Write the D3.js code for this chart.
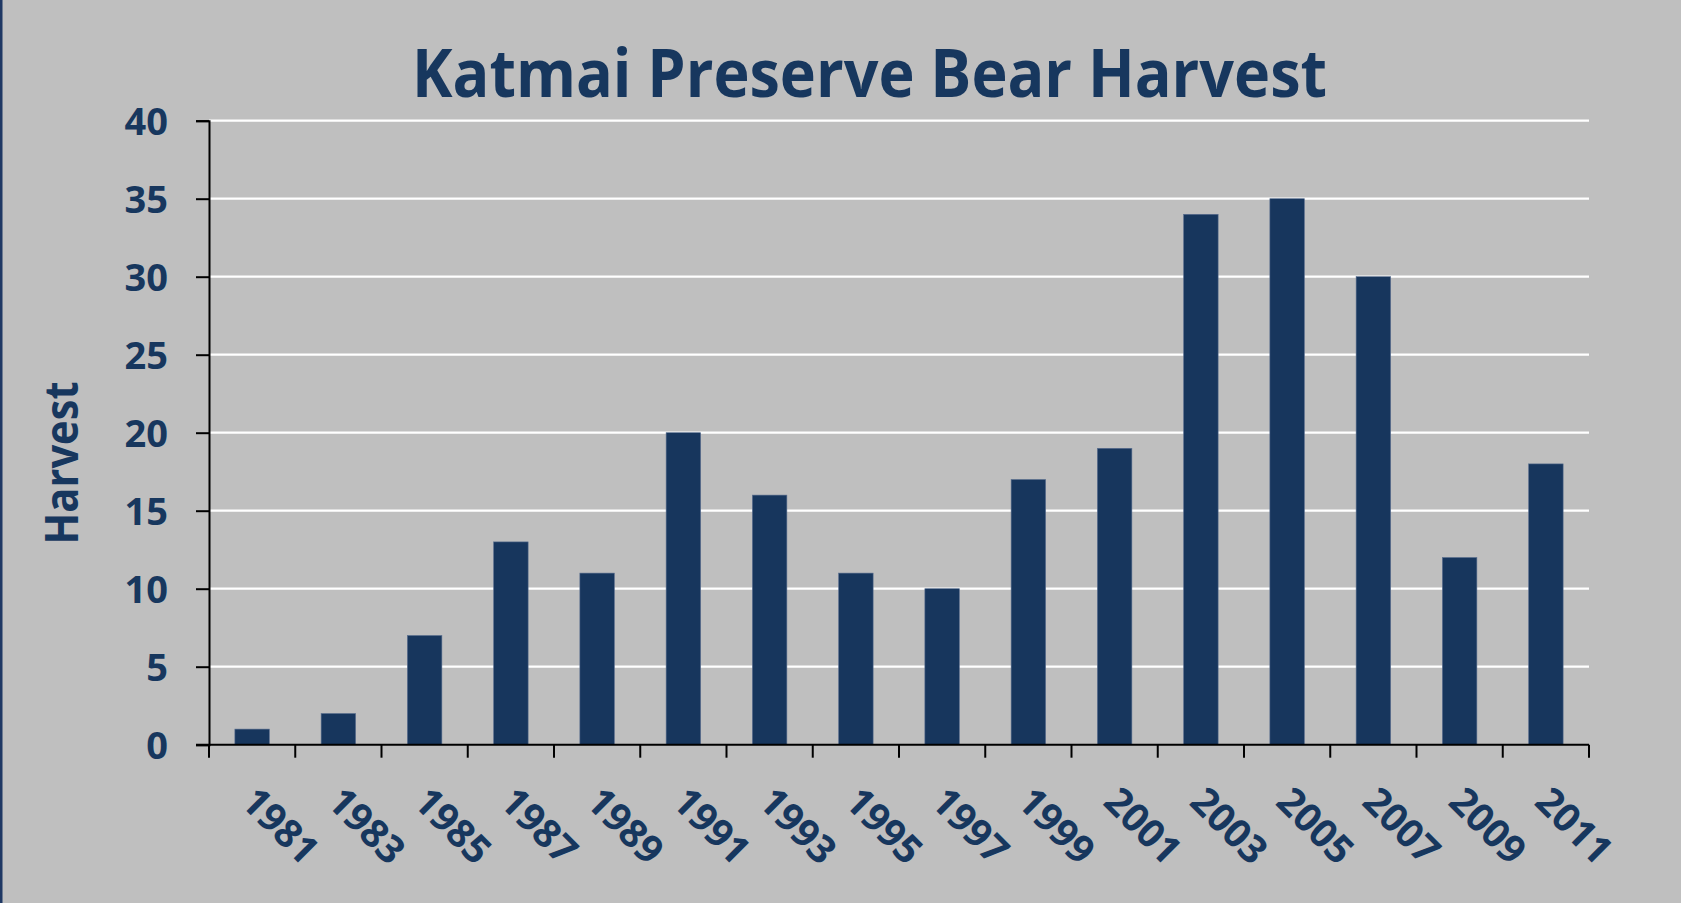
<!DOCTYPE html>
<html>
<head>
<meta charset="utf-8">
<script src="https://cdn.jsdelivr.net/npm/d3@7"></script>
<style>
  html, body { margin: 0; padding: 0; background: #bfbfbf; }
  svg { display: block; }
  text { font-family: "Open Sans", sans-serif; font-weight: bold; fill: #17375e; }
</style>
</head>
<body>
<div id="chart"></div>
<script>
// chart values
var years = ["1981", "1983", "1985", "1987", "1989", "1991", "1993", "1995",
             "1997", "1999", "2001", "2003", "2005", "2007", "2009", "2011"];
var harvest = [1, 2, 7, 13, 11, 20, 16, 11, 10, 17, 19, 34, 35, 30, 12, 18];
var yTicks = [0, 5, 10, 15, 20, 25, 30, 35, 40];

var svgWidth = 1681;
var svgHeight = 903;

var margin = { top: 120.7, right: 92, bottom: 158.3, left: 209 };
var chartWidth = svgWidth - margin.left - margin.right;
var chartHeight = svgHeight - margin.top - margin.bottom;

var svg = d3.select("#chart").append("svg")
    .attr("width", svgWidth)
    .attr("height", svgHeight);

// background and the thin blue border on the left
svg.append("rect").attr("width", svgWidth).attr("height", svgHeight).attr("fill", "#bfbfbf");
svg.append("rect").attr("x", 0).attr("y", 0).attr("width", 2.5).attr("height", svgHeight).attr("fill", "#1f3864");

var chartGroup = svg.append("g")
    .attr("transform", `translate(${margin.left}, ${margin.top})`);

var xScale = d3.scaleBand()
    .domain(years)
    .range([0, chartWidth])
    .paddingInner(0.6)
    .paddingOuter(0.3);

var yScale = d3.scaleLinear()
    .domain([0, 40])
    .range([chartHeight, 0]);

// gridlines
chartGroup.selectAll(".grid")
    .data(yTicks.filter(d => d > 0))
    .enter()
    .append("line")
    .attr("x1", 0)
    .attr("x2", chartWidth)
    .attr("y1", d => yScale(d))
    .attr("y2", d => yScale(d))
    .attr("stroke", "#ffffff")
    .attr("stroke-width", 2.2);

// bars
chartGroup.selectAll("rect.bar")
    .data(harvest)
    .enter()
    .append("rect")
    .attr("class", "bar")
    .attr("x", (d, i) => xScale(years[i]))
    .attr("y", d => yScale(d))
    .attr("width", xScale.bandwidth())
    .attr("height", d => chartHeight - yScale(d))
    .attr("fill", "#17365d")
    .attr("stroke", "#5a6f8f")
    .attr("stroke-width", 0.6);

// y axis
var yAxis = d3.axisLeft(yScale).tickValues(yTicks).tickSize(13).tickPadding(28);
var yG = chartGroup.append("g").call(yAxis);
yG.select(".domain").attr("stroke", "#000").attr("stroke-width", 2);
yG.selectAll(".tick line").attr("stroke", "#000").attr("stroke-width", 2);
yG.selectAll(".tick text")
    .style("font-size", "38px")
    .attr("fill", "#17375e")
    .attr("dy", "0.36em");

// x axis: ticks at the category boundaries
var edgeScale = d3.scaleLinear().domain([0, years.length]).range([0, chartWidth]);
var xAxisG = chartGroup.append("g")
    .attr("transform", `translate(0, ${chartHeight})`);
xAxisG.append("line")
    .attr("x1", -13).attr("x2", chartWidth)
    .attr("stroke", "#000").attr("stroke-width", 2);
xAxisG.selectAll(".xtick")
    .data(d3.range(years.length + 1))
    .enter()
    .append("line")
    .attr("x1", d => edgeScale(d))
    .attr("x2", d => edgeScale(d))
    .attr("y1", 0)
    .attr("y2", 13)
    .attr("stroke", "#000")
    .attr("stroke-width", 2);

xAxisG.selectAll(".xlabel")
    .data(years)
    .enter()
    .append("text")
    .attr("text-anchor", "start")
    .attr("transform", d => `translate(${xScale(d) + xScale.bandwidth() / 2 - 13}, 59) rotate(45)`)
    .style("font-size", "39px")
    .text(d => d);

// title
svg.append("text")
    .attr("x", 412)
    .attr("y", 97)
    .attr("textLength", 915)
    .attr("lengthAdjust", "spacingAndGlyphs")
    .style("font-size", "66px")
    .text("Katmai Preserve Bear Harvest");

// y axis label
svg.append("text")
    .attr("transform", "translate(78, 463) rotate(-90)")
    .attr("text-anchor", "middle")
    .attr("textLength", 163)
    .attr("lengthAdjust", "spacingAndGlyphs")
    .style("font-size", "46px")
    .text("Harvest");
</script>
</body>
</html>
